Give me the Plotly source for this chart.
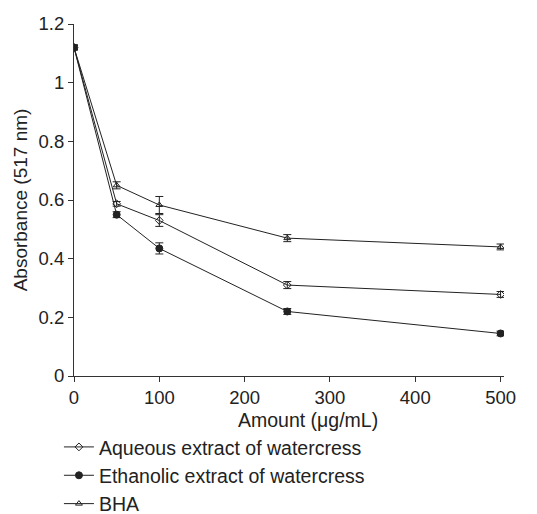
import plotly.graph_objects as go

amount = [0, 50, 100, 250, 500]
aqueous = [1.12, 0.587, 0.530, 0.310, 0.278]
aqueous_err = [0.008, 0.008, 0.02, 0.012, 0.01]
ethanolic = [1.12, 0.550, 0.435, 0.220, 0.145]
ethanolic_err = [0.008, 0.01, 0.019, 0.01, 0.008]
bha = [1.12, 0.650, 0.583, 0.470, 0.440]
bha_err = [0.008, 0.012, 0.029, 0.012, 0.01]

names = ["Aqueous extract of watercress", "Ethanolic extract of watercress", "BHA"]
symbols = ["diamond-open", "circle", "triangle-up-open"]
sizes = [6, 7, 6]
series = [(aqueous, aqueous_err), (ethanolic, ethanolic_err), (bha, bha_err)]

line_col = "#222222"
fig = go.Figure()
for name, sym, sz, (vals, errs) in zip(names, symbols, sizes, series):
    fig.add_trace(go.Scatter(
        x=amount, y=vals, name=name, mode="lines+markers",
        line=dict(color=line_col, width=1),
        marker=dict(symbol=sym, size=sz, color=line_col, line=dict(color=line_col, width=1)),
        error_y=dict(type="data", array=errs, visible=True, color=line_col, thickness=1, width=4),
    ))

font = dict(family="Liberation Sans, Arial, sans-serif", size=18, color="#222222")
fig.update_layout(
    width=537, height=514,
    margin=dict(l=74, r=33, t=24, b=138, autoexpand=False),
    paper_bgcolor="white", plot_bgcolor="white",
    font=font,
    showlegend=True,
    legend=dict(x=-0.035, xanchor="left", y=-0.147, yanchor="top", orientation="v",
                font=dict(size=19.5), itemwidth=30, bgcolor="rgba(0,0,0,0)"),
    xaxis=dict(range=[0, 504], tickvals=[0, 100, 200, 300, 400, 500], ticks="outside",
               ticklen=5, tickcolor="#333", showline=True, linecolor="#333", linewidth=1,
               showgrid=False, zeroline=False, tickfont=dict(size=18.5)),
    yaxis=dict(range=[0, 1.2], tickvals=[0, 0.2, 0.4, 0.6, 0.8, 1, 1.2],
               ticktext=["0", "0.2", "0.4", "0.6", "0.8", "1", "1.2"], ticks="outside",
               ticklen=5, tickcolor="#333", showline=True, linecolor="#333", linewidth=1,
               showgrid=False, zeroline=False, tickfont=dict(size=18.5),
               title=dict(text="Absorbance (517 nm)", standoff=5, font=dict(size=19))),
    annotations=[dict(text="Amount (μg/mL)", xref="paper", yref="paper",
                      x=0.544, y=-0.125, xanchor="center", yanchor="middle",
                      showarrow=False, font=dict(size=19.5))],
)
fig.write_html("out.html")
